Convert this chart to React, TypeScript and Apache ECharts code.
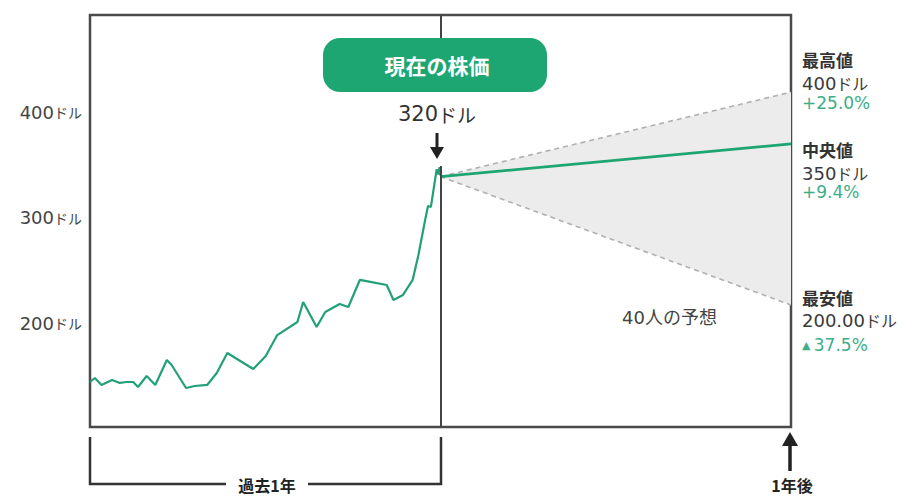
import React, { useEffect, useRef } from "react";
import * as echarts from "echarts";

// Past year (days 0..365) price trace
const histDays = [0, 5, 12, 23, 31, 38, 45, 50, 59, 68, 80, 85, 100, 109, 122, 132, 143, 170, 183, 195, 216, 222, 236, 245, 260, 269, 281, 292, 309, 316, 326, 336, 342, 349, 352, 355, 359, 361, 362.5, 364, 365];
const histPrice = [144.6, 148.4, 141.8, 146.5, 143.7, 144.6, 144.6, 139.9, 150.3, 141.8, 165.4, 160.7, 138.9, 140.8, 141.8, 153.1, 172.0, 156.9, 169.2, 189.0, 201.4, 220.3, 196.7, 210.9, 218.4, 215.6, 241.2, 239.3, 236.4, 222.2, 227.0, 241.2, 264.8, 297.9, 311.2, 310.3, 333.9, 346.0, 341.0, 348.0, 340.0];

// Forecast (now -> one year later)
const forecastDays = [365, 730];
const forecastHigh = [339, 419];
const forecastMid = [339, 370];
const forecastLow = [339, 217.5];

const nowDay = 365;
const yTicks = [200, 300, 400];
const yUnit = "ドル";

const rightLabels = [
  { title: "最高値", price: "400", unit: "ドル", change: "+25.0%", tri: "" },
  { title: "中央値", price: "350", unit: "ドル", change: "+9.4%", tri: "" },
  { title: "最安値", price: "200.00", unit: "ドル", change: "37.5%", tri: "▲" },
];

const FONT = '"DejaVu Sans", "Noto Sans CJK JP", sans-serif';
const JP = '"Noto Sans CJK JP", sans-serif';
const GREEN = "#1ea672";
const LINE_GREEN = "#22a07a";
const PCT_GREEN = "#3cae88";
const DARK = "#333333";

function zip(a: number[], b: number[]) {
  return a.map((v, i) => [v, b[i]]);
}

export default function App() {
  const ref = useRef<HTMLDivElement>(null);

  useEffect(() => {
    if (!ref.current) return;
    const chart = echarts.init(ref.current, null, { renderer: "svg" });

    const labelY = [
      [59, 83, 103],
      [149, 173, 192],
      [297, 320, 345],
    ];
    const rightGraphics: any[] = [];
    rightLabels.forEach((l, i) => {
      rightGraphics.push({
        type: "text",
        z: 100,
        style: {
          x: 802,
          y: labelY[i][0],
          text: l.title,
          font: `bold 17px ${JP}`,
          fill: DARK,
          verticalAlign: "middle",
        },
      });
      rightGraphics.push({
        type: "text",
        z: 100,
        style: {
          x: 802,
          y: labelY[i][1],
          text: `{n|${l.price}}{u|${l.unit}}`,
          verticalAlign: "middle",
          rich: {
            n: { fontSize: 18, fontFamily: FONT, fill: "#3a3a3a" },
            u: { fontSize: 16, fontFamily: JP, fill: "#3a3a3a" },
          },
        },
      });
      rightGraphics.push({
        type: "text",
        z: 100,
        style: {
          x: 802,
          y: labelY[i][2],
          text: l.tri ? `{t|${l.tri}} {n|${l.change}}` : `{n|${l.change}}`,
          verticalAlign: "middle",
          rich: {
            t: { fontSize: 11, fontFamily: FONT, fill: PCT_GREEN },
            n: { fontSize: 17, fontFamily: FONT, fill: PCT_GREEN },
          },
        },
      });
    });

    const ax = 437; // annotation centre
    const option: any = {
      animation: false,
      backgroundColor: "#ffffff",
      grid: {
        left: 90,
        right: 125,
        top: 15,
        bottom: 69,
        show: true,
        borderColor: "#4a4a4a",
        borderWidth: 2.5,
        backgroundColor: "transparent",
      },
      xAxis: {
        type: "value",
        min: 0,
        max: 730,
        show: false,
      },
      yAxis: {
        type: "value",
        min: 102,
        max: 492,
        axisLine: { show: false },
        axisTick: { show: false },
        splitLine: { show: false },
        axisLabel: {
          customValues: yTicks,
          margin: 8,
          formatter: (v: number) => `{n|${v}}{u|${yUnit}}`,
          rich: {
            n: { fontSize: 18, fontFamily: FONT, color: "#444" },
            u: { fontSize: 14, fontFamily: JP, color: "#444" },
          },
        },
      },
      series: [
        {
          type: "custom",
          silent: true,
          z: 1,
          renderItem: (_params: any, api: any) => {
            const pts = [
              [forecastDays[0], forecastHigh[0]],
              [forecastDays[1], forecastHigh[1]],
              [forecastDays[1], forecastLow[1]],
            ].map((p) => api.coord(p));
            return {
              type: "polygon",
              shape: { points: pts },
              style: { fill: "#ececec" },
            };
          },
          data: [[forecastDays[0], forecastHigh[0]]],
        },
        {
          type: "line",
          data: zip(histDays, histPrice),
          symbol: "none",
          z: 3,
          lineStyle: { color: LINE_GREEN, width: 2.2 },
          markLine: {
            silent: true,
            symbol: ["none", "none"],
            label: { show: false },
            lineStyle: { color: "#444", width: 2, type: "solid" },
            data: [{ xAxis: nowDay }],
          },
        },
        {
          type: "line",
          data: zip(forecastDays, forecastHigh),
          symbol: "none",
          z: 2,
          lineStyle: { color: "#b0b0b0", width: 1.6, type: [5, 4] },
        },
        {
          type: "line",
          data: zip(forecastDays, forecastLow),
          symbol: "none",
          z: 2,
          lineStyle: { color: "#b0b0b0", width: 1.6, type: [5, 4] },
        },
        {
          type: "line",
          data: zip(forecastDays, forecastMid),
          symbol: "none",
          z: 3,
          lineStyle: { color: GREEN, width: 2.6 },
        },
      ],
      graphic: [
        // white gap in the "now" line behind the price annotation
        { type: "rect", z: 100, shape: { x: 425, y: 92, width: 24, height: 74 }, style: { fill: "#fff" } },
        // green badge
        { type: "rect", z: 100, shape: { x: 323, y: 38, width: 224, height: 54, r: 17 }, style: { fill: GREEN } },
        {
          type: "text",
          z: 101,
          style: {
            x: ax,
            y: 65,
            text: "現在の株価",
            font: `bold 21px ${JP}`,
            fill: "#ffffff",
            align: "center",
            verticalAlign: "middle",
          },
        },
        {
          type: "text",
          z: 101,
          style: {
            x: ax,
            y: 114,
            text: "{n|320}{u|ドル}",
            align: "center",
            verticalAlign: "middle",
            rich: {
              n: { fontSize: 21, fontFamily: FONT, fill: DARK },
              u: { fontSize: 19, fontFamily: JP, fill: DARK },
            },
          },
        },
        // down arrow
        { type: "line", z: 101, shape: { x1: ax, y1: 133, x2: ax, y2: 149 }, style: { stroke: "#222", lineWidth: 3 } },
        { type: "polygon", z: 101, shape: { points: [[ax - 7, 147], [ax + 7, 147], [ax, 159]] }, style: { fill: "#222" } },
        // forecast caption
        {
          type: "text",
          z: 100,
          style: {
            x: 622,
            y: 317,
            text: "40人の予想",
            font: `18px ${FONT}`,
            fill: "#444",
            verticalAlign: "middle",
          },
        },
        ...rightGraphics,
        // past-year bracket
        {
          type: "polyline",
          z: 100,
          shape: { points: [[90, 437], [90, 484], [226, 484]] },
          style: { stroke: "#333", lineWidth: 2.5, fill: null },
        },
        {
          type: "polyline",
          z: 100,
          shape: { points: [[308, 484], [441, 484], [441, 437]] },
          style: { stroke: "#333", lineWidth: 2.5, fill: null },
        },
        {
          type: "text",
          z: 100,
          style: {
            x: 267,
            y: 485,
            text: "過去1年",
            font: `bold 16px ${JP}`,
            fill: "#222",
            align: "center",
            verticalAlign: "middle",
          },
        },
        // one-year-later arrow
        { type: "polygon", z: 100, shape: { points: [[782, 446], [798, 446], [790, 432]] }, style: { fill: "#222" } },
        { type: "line", z: 100, shape: { x1: 790, y1: 444, x2: 790, y2: 471 }, style: { stroke: "#222", lineWidth: 3.5 } },
        {
          type: "text",
          z: 100,
          style: {
            x: 792,
            y: 485,
            text: "1年後",
            font: `bold 16px ${JP}`,
            fill: "#222",
            align: "center",
            verticalAlign: "middle",
          },
        },
      ],
    };

    chart.setOption(option);
    return () => chart.dispose();
  }, []);

  return (
    <div
      ref={ref}
      style={{ position: "fixed", left: 0, top: 0, width: 916, height: 496, background: "#fff" }}
    />
  );
}
